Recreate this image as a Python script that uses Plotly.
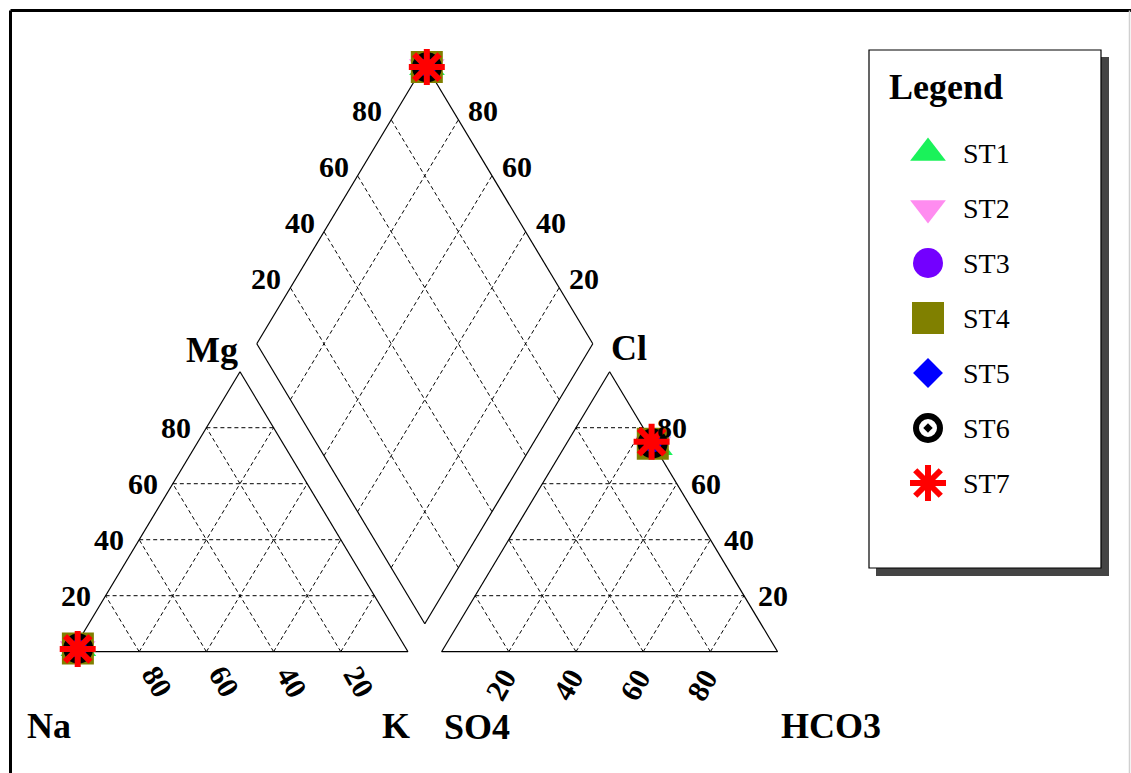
import numpy as np
import plotly.graph_objects as go

# ---- station chemistry (percent of meq totals) ----
stations = ["ST1", "ST2", "ST3", "ST4", "ST5", "ST6", "ST7"]
# cation triangle: Na (lower-left), K (lower-right), Mg (apex)
na_pct = [97.5, 97.8, 97.6, 97.7, 97.9, 97.6, 97.8]
k_pct = [1.3, 1.2, 1.3, 1.2, 1.1, 1.3, 1.2]
mg_pct = [1.2, 1.0, 1.1, 1.1, 1.0, 1.1, 1.0]
# anion triangle: SO4 (lower-left), HCO3 (lower-right), Cl (apex)
so4_pct = [0.0, 0.0, 0.0, 0.0, 0.0, 0.0, 0.0]
hco3_pct = [27.0, 26.0, 25.8, 25.7, 25.9, 25.6, 25.0]
cl_pct = [73.0, 74.0, 74.2, 74.3, 74.1, 74.4, 75.0]

tick_values = [20, 40, 60, 80]

marker_symbols = ["triangle-up", "triangle-down", "circle", "square",
                  "diamond", "circle-open-dot", "asterisk-open"]
marker_colors = ["#1AF25A", "#FF8CF0", "#7300FF", "#808000",
                 "#0000FF", "#000000", "#FF0000"]
marker_sizes = [31, 31, 30, 32, 23, 24, 30]
marker_line_widths = [0, 0, 0, 0, 0, 6, 6]

SERIF = "Liberation Serif"
W, HGT = 1131, 773

# ---- Piper geometry (unit-side triangles) ----
H = np.sqrt(3) / 2
GAP = 0.1
CAT = dict(left=np.array([0.0, 0.0]), right=np.array([1.0, 0.0]), top=np.array([0.5, H]))
AN = dict(left=np.array([1 + GAP, 0.0]), right=np.array([2 + GAP, 0.0]), top=np.array([1.5 + GAP, H]))
DB = np.array([1 + GAP / 2, GAP * H])
DL = DB + np.array([-0.5, H])
DR = DB + np.array([0.5, H])
DT = DB + np.array([0.0, 2 * H])


def tern(tri, fl, fr, ft):
    return fl * tri["left"] + fr * tri["right"] + ft * tri["top"]


def diamond(a, b):
    return DB + a * (DL - DB) + b * (DR - DB)


# axis ranges chosen so the diagram sits where intended on the page
PX_X0, PX_PER_X = 72.0, 336.0
PX_Y0, PX_PER_Y = 651.7, 323.3
x_range = [-PX_X0 / PX_PER_X, (W - PX_X0) / PX_PER_X]
y_range = [-(HGT - PX_Y0) / PX_PER_Y, PX_Y0 / PX_PER_Y]

fig = go.Figure()


def add_segments(segs, dash, width):
    xs, ys = [], []
    for p, q in segs:
        xs += [p[0], q[0], None]
        ys += [p[1], q[1], None]
    fig.add_trace(go.Scatter(x=xs, y=ys, mode="lines", showlegend=False, hoverinfo="skip",
                             line=dict(color="black", width=width, dash=dash)))


# dashed grid
grid = []
for tri in (CAT, AN):
    for v in tick_values:
        f = v / 100
        grid.append((tern(tri, f, 1 - f, 0), tern(tri, f, 0, 1 - f)))
        grid.append((tern(tri, 1 - f, f, 0), tern(tri, 0, f, 1 - f)))
        grid.append((tern(tri, 1 - f, 0, f), tern(tri, 0, 1 - f, f)))
for v in tick_values:
    f = v / 100
    grid.append((diamond(0, f), diamond(1, f)))
    grid.append((diamond(f, 0), diamond(f, 1)))
add_segments(grid, "4px,3px", 1)

# outlines
outline = []
for tri in (CAT, AN):
    pts = [tri["left"], tri["right"], tri["top"], tri["left"]]
    outline += list(zip(pts[:-1], pts[1:]))
dpts = [DB, DR, DT, DL, DB]
outline += list(zip(dpts[:-1], dpts[1:]))
add_segments(outline, "solid", 1.2)

# station points in all three fields
for i, name in enumerate(stations):
    c = tern(CAT, na_pct[i] / 100, k_pct[i] / 100, mg_pct[i] / 100)
    a = tern(AN, so4_pct[i] / 100, hco3_pct[i] / 100, cl_pct[i] / 100)
    d = diamond((na_pct[i] + mg_pct[i]) / 100, (hco3_pct[i] + cl_pct[i]) / 100)
    fig.add_trace(go.Scatter(
        x=[c[0], a[0], d[0]], y=[c[1], a[1], d[1]], mode="markers", name=name,
        showlegend=False, hoverinfo="skip", cliponaxis=False,
        marker=dict(symbol=marker_symbols[i], size=marker_sizes[i], color=marker_colors[i],
                    line=dict(color=marker_colors[i], width=marker_line_widths[i]))))

ann = []
TICK_FONT = dict(family=SERIF, size=30, color="black")
VERT_FONT = dict(family=SERIF, size=36, color="black")


def label(p, text, font, xanchor="center", xshift=0, yshift=0, angle=0):
    ann.append(dict(x=p[0], y=p[1], xref="x", yref="y", text=text, showarrow=False,
                    font=font, xanchor=xanchor, yanchor="middle",
                    xshift=xshift, yshift=yshift, textangle=angle))


for v in tick_values:
    f = v / 100
    # cation triangle: Mg on the left edge, Na along the base
    label(tern(CAT, 1 - f, 0, f), f"<b>{v}</b>", TICK_FONT, "right", -13, 0)
    label(tern(CAT, f, 1 - f, 0), f"<b>{v}</b>", TICK_FONT, "center", 18, -30, 60)
    # anion triangle: Cl on the right edge, HCO3 along the base
    label(tern(AN, 0, 1 - f, f), f"<b>{v}</b>", TICK_FONT, "left", 12, 0)
    label(tern(AN, 1 - f, f, 0), f"<b>{v}</b>", TICK_FONT, "center", -8, -33, -60)
    # diamond upper edges
    label(diamond(1, f), f"<b>{v}</b>", TICK_FONT, "right", -7, 9)
    label(diamond(f, 1), f"<b>{v}</b>", TICK_FONT, "left", 8, 9)

label(CAT["top"], "<b>Mg</b>", VERT_FONT, "center", -28, 22)
label(AN["top"], "<b>Cl</b>", VERT_FONT, "center", 19, 24)
label(CAT["left"], "<b>Na</b>", VERT_FONT, "center", -23, -74)
label(CAT["right"], "<b>K</b>", VERT_FONT, "center", -12, -74)
label(AN["left"], "<b>SO4</b>", VERT_FONT, "center", 35, -75)
label(AN["right"], "<b>HCO3</b>", VERT_FONT, "center", 53, -74)

# ---- legend panel (pixel-coordinate overlay axes) ----
LEG_BOX = (869, 50, 1101, 568)
SHADOW = 8
LEG_SYM_X, LEG_TEXT_X = 928, 961
LEG_Y0, LEG_DY = 153, 55.0

shapes = [
    dict(type="rect", xref="x2", yref="y2", layer="below",
         x0=LEG_BOX[0] + SHADOW - 1, y0=LEG_BOX[1] + SHADOW - 1,
         x1=LEG_BOX[2] + SHADOW, y1=LEG_BOX[3] + SHADOW,
         fillcolor="#444444", line=dict(width=0)),
    dict(type="rect", xref="x2", yref="y2", layer="below",
         x0=LEG_BOX[0], y0=LEG_BOX[1], x1=LEG_BOX[2], y1=LEG_BOX[3],
         fillcolor="white", line=dict(color="black", width=1.2)),
    # page frame
    dict(type="line", xref="x2", yref="y2", x0=10.5, y0=10.5, x1=W, y1=10.5,
         line=dict(color="black", width=3)),
    dict(type="line", xref="x2", yref="y2", x0=10.5, y0=10.5, x1=10.5, y1=HGT,
         line=dict(color="black", width=3)),
    dict(type="line", xref="x2", yref="y2", x0=W - 1.5, y0=10.5, x1=W - 1.5, y1=HGT,
         line=dict(color="#d0d0d0", width=1.5)),
]

ann.append(dict(x=887, y=87, xref="x2", yref="y2", text="<b>Legend</b>", showarrow=False,
                xanchor="left", yanchor="middle",
                font=dict(family=SERIF, size=36, color="black")))
for i, name in enumerate(stations):
    yy = LEG_Y0 + i * LEG_DY
    fig.add_trace(go.Scatter(
        x=[LEG_SYM_X], y=[yy], xaxis="x2", yaxis="y2", mode="markers", showlegend=False,
        hoverinfo="skip",
        marker=dict(symbol=marker_symbols[i], size=marker_sizes[i], color=marker_colors[i],
                    line=dict(color=marker_colors[i], width=marker_line_widths[i]))))
    ann.append(dict(x=LEG_TEXT_X, y=yy, xref="x2", yref="y2", text=name, showarrow=False,
                    xanchor="left", yanchor="middle",
                    font=dict(family=SERIF, size=28, color="black")))

hidden = dict(visible=False, showgrid=False, zeroline=False, fixedrange=True)
fig.update_layout(
    width=W, height=HGT, margin=dict(l=0, r=0, t=0, b=0),
    paper_bgcolor="white", plot_bgcolor="white",
    xaxis=dict(range=x_range, domain=[0, 1], **hidden),
    yaxis=dict(range=y_range, domain=[0, 1], **hidden),
    xaxis2=dict(range=[0, W], overlaying="x", **hidden),
    yaxis2=dict(range=[HGT, 0], overlaying="y", **hidden),
    shapes=shapes, annotations=ann, showlegend=False,
)

fig.write_html("out.html")
